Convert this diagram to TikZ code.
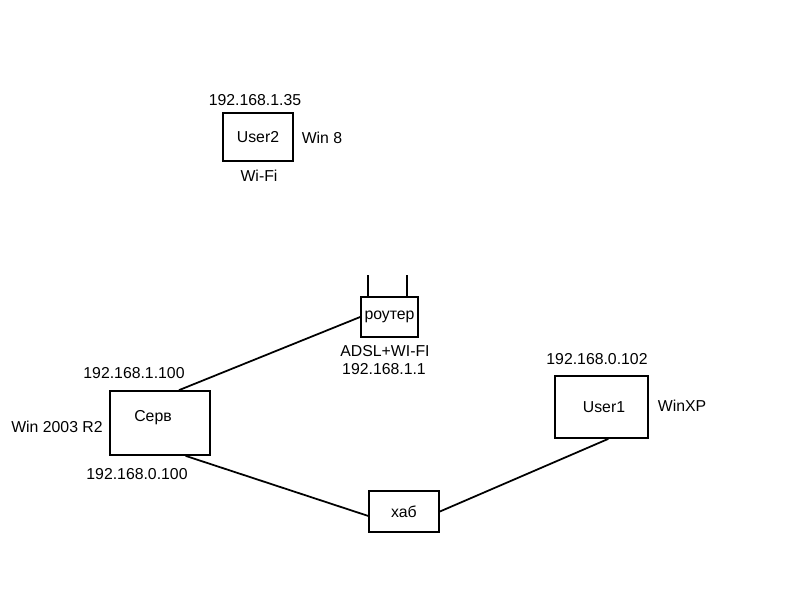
\documentclass[tikz,border=0pt]{standalone}
\usepackage{fontspec}
\setmainfont{Liberation Sans}
\tikzset{
  host/.style={draw, line width=1pt, inner sep=0pt},
  link/.style={line width=1pt},
  lbl/.style={inner sep=0pt}
}

\begin{document}
\begin{tikzpicture}[x=0.02cm, y=-0.02cm, font=\fontsize{9}{11}\selectfont]
\useasboundingbox (0,0) rectangle (800,600);

% hosts
\node[host, minimum width=1.4cm, minimum height=0.96cm] (user2) at (258,137) {User2};
\node[host, minimum width=1.14cm, minimum height=0.8cm] (router) at (389.5,317) {роутер};
\node[host, minimum width=2cm, minimum height=1.28cm] (serv) at (160,423) {};
\node[lbl] (servname) at (153,418) {Серв};
\node[host, minimum width=1.4cm, minimum height=0.82cm] (hub) at (404,511.5) {хаб};
\node[host, minimum width=1.86cm, minimum height=1.24cm] (user1) at (601.5,407) {};
\node[lbl] (user1name) at (604,407) {User1};

% antennas
\draw[link] ([xshift=0.16cm]router.north west) -- ++(0,-21);
\draw[link] ([xshift=-0.24cm]router.north east) -- ++(0,-21);

% links
\draw[link] (serv.60.6) -- (router.west);
\draw[link] (serv.-52) -- (hub.187);
\draw[link] (hub.east) -- (user1.-78);

% labels
\node[lbl] (ip2) at (255,100) {192.168.1.35};
\node[lbl] (os2) at (322,138) {Win 8};
\node[lbl] (wifi) at (259,176) {Wi-Fi};
\node[lbl] (adsl) at (385,351) {ADSL+WI-FI};
\node[lbl] (iprt) at (384,369) {192.168.1.1};
\node[lbl] (ipsv1) at (134,373) {192.168.1.100};
\node[lbl] (ossv) at (57,427) {Win 2003 R2};
\node[lbl] (ipsv0) at (137,474) {192.168.0.100};
\node[lbl] (ip1) at (597,359) {192.168.0.102};
\node[lbl] (os1) at (682,406) {WinXP};

\end{tikzpicture}
\end{document}
